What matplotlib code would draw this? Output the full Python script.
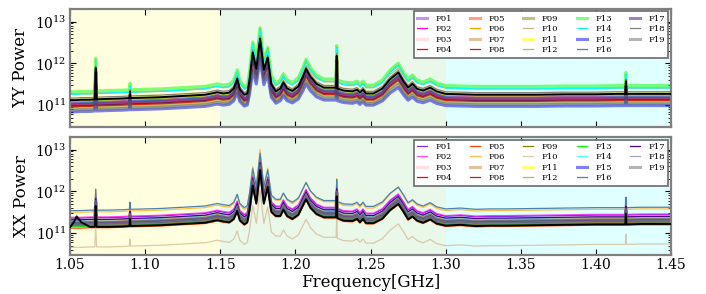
import numpy as np
import matplotlib
matplotlib.use('Agg')
import matplotlib.pyplot as plt
from matplotlib.ticker import FixedLocator, LogLocator, NullFormatter

plt.rcParams['font.family'] = ['DejaVu Serif']
plt.rcParams['mathtext.fontset'] = 'dejavuserif'

# frequency grid [GHz], denser around the lines
freq = [1.050, 1.0525, 1.0544, 1.0575, 1.0633, 1.0665, 1.0671, 1.0677, 1.075, 1.085,
        1.0895, 1.0899, 1.0903, 1.100, 1.110, 1.120, 1.130, 1.140, 1.148, 1.152,
        1.156, 1.159, 1.1613, 1.163, 1.166, 1.168, 1.1695, 1.1716, 1.1740, 1.1765,
        1.1790, 1.1816, 1.1840, 1.1870, 1.1900, 1.1920, 1.1945, 1.1980, 1.2020, 1.2050,
        1.2071, 1.2100, 1.2140, 1.2190, 1.2240, 1.2271, 1.2275, 1.2279, 1.2320, 1.2380,
        1.2410, 1.2430, 1.2450, 1.2470, 1.2520, 1.2580, 1.2630, 1.2685, 1.2720, 1.2750,
        1.2779, 1.2810, 1.2850, 1.2897, 1.2940, 1.3000, 1.3100, 1.3200, 1.3300, 1.3400,
        1.3600, 1.3800, 1.4000, 1.4150, 1.4196, 1.4200, 1.4204, 1.4300, 1.4500]

# YY: median continuum and line excess (log10 power)
yy_cont = [11.12, 11.12, 11.12, 11.13, 11.13, 11.14, 11.14, 11.14, 11.15, 11.16,
           11.17, 11.17, 11.17, 11.18, 11.19, 11.21, 11.23, 11.25, 11.28, 11.28,
           11.30, 11.30, 11.30, 11.30, 11.30, 11.30, 11.30, 11.30, 11.30, 11.30,
           11.30, 11.30, 11.30, 11.30, 11.30, 11.30, 11.30, 11.30, 11.30, 11.30,
           11.30, 11.30, 11.30, 11.30, 11.30, 11.30, 11.30, 11.30, 11.30, 11.29,
           11.28, 11.28, 11.28, 11.28, 11.28, 11.28, 11.27, 11.27, 11.27, 11.27,
           11.27, 11.27, 11.27, 11.27, 11.27, 11.27, 11.26, 11.25, 11.25, 11.25,
           11.25, 11.26, 11.26, 11.27, 11.27, 11.27, 11.27, 11.27, 11.27]
yy_line = [0, 0, 0, 0, 0, 0, 0.75, 0, 0, 0,
           0, 0.15, 0, 0, 0, 0, 0, 0, 0.03, 0,
           0, 0.10, 0.33, 0.08, -0.05, -0.02, 0.30, 0.96, 0.57, 1.29,
           0.55, 0.84, 0.20, 0.03, 0.10, 0.24, 0.10, 0.04, 0.15, 0.38,
           0.57, 0.38, 0.21, 0.12, 0.12, 0.12, 0.88, 0.10, 0.05, 0.04,
           0.09, 0.02, 0.09, 0, 0, 0.12, 0.35, 0.51, 0.30, 0.15,
           0.24, 0.12, 0.08, 0.15, 0.06, 0, 0, 0, 0, 0,
           0, 0, 0, 0, 0, 0.30, 0, 0, 0]

# XX: median continuum and line excess (log10 power)
xx_cont = [11.28, 11.28, 11.28, 11.28, 11.29, 11.29, 11.29, 11.29, 11.29, 11.30,
           11.31, 11.31, 11.31, 11.32, 11.33, 11.35, 11.37, 11.39, 11.42, 11.42,
           11.40, 11.40, 11.40, 11.40, 11.40, 11.40, 11.40, 11.40, 11.40, 11.40,
           11.40, 11.40, 11.40, 11.40, 11.40, 11.40, 11.40, 11.40, 11.40, 11.40,
           11.40, 11.40, 11.40, 11.40, 11.40, 11.40, 11.40, 11.40, 11.40, 11.39,
           11.38, 11.38, 11.38, 11.38, 11.38, 11.37, 11.36, 11.36, 11.35, 11.35,
           11.34, 11.34, 11.33, 11.33, 11.32, 11.32, 11.31, 11.31, 11.32, 11.32,
           11.33, 11.34, 11.35, 11.35, 11.35, 11.35, 11.35, 11.36, 11.36]
xx_line = [0, 0, 0, 0, 0, 0, 0.50, 0, 0, 0,
           0, 0.17, 0, 0, 0, 0, 0, 0, 0.03, 0,
           0, 0.08, 0.27, 0.05, -0.05, 0, 0.30, 0.88, 0.45, 1.25,
           0.45, 0.85, 0.25, 0.15, 0.15, 0.30, 0.15, 0.08, 0.18, 0.40,
           0.55, 0.35, 0.20, 0.12, 0.12, 0.12, 0.62, 0.10, 0.04, 0.04,
           0.10, 0.02, 0.10, 0, 0, 0.12, 0.33, 0.48, 0.30, 0.12,
           0.20, 0.10, 0.06, 0.14, 0.05, 0, 0.03, 0, 0, 0,
           0, 0, 0, 0, 0, 0.25, 0, 0, 0]
# bump seen only in the black XX curve near 1.054 GHz
xx_black_extra = [0, 0.12, 0.26, 0.12] + [0] * 75

names = ['F%02d' % (i + 1) for i in range(19)]
colors = ['blueviolet', 'magenta', 'pink', 'red', 'orangered', 'orange', 'peru',
          'brown', 'olive', 'tan', 'yellow', 'yellowgreen', 'lime', 'cyan', 'blue',
          'steelblue', 'indigo', 'gray', 'dimgray']

# per-feed offset from the median (dex) and line strength factor
yy_off = [-0.08, -0.05, -0.10, -0.16, -0.12, 0.14, -0.02, -0.14, -0.20, 0.15,
          0.03, -0.03, 0.20, 0.14, -0.28, -0.07, -0.11, 0.05, -0.24]
yy_scale = [1.0, 1.0, 1.0, 0.95, 1.0, 1.08, 1.0, 0.95, 0.95, 0.9,
            1.0, 1.0, 1.05, 1.05, 0.85, 1.0, 1.0, 1.0, 0.9]
xx_off = [0.08, 0.10, 0.02, -0.10, -0.16, 0.22, 0.0, -0.04, -0.02, -0.62,
          -0.06, -0.08, -0.12, 0.03, -0.05, 0.26, 0.04, -0.01, -0.09]
xx_scale = [1.0, 1.0, 1.0, 1.0, 1.0, 1.1, 1.0, 1.0, 1.0, 1.0,
            1.0, 1.0, 1.0, 1.0, 1.0, 1.0, 1.0, 1.0, 1.0]
yy_black_off = 0.0
xx_black_off = -0.14

# line styles: YY odd feeds thick/faded, XX every 4th thick or faded
yy_lw = [2.2 if i % 2 == 0 else 0.9 for i in range(19)]
yy_alpha = [0.5 if i % 2 == 0 else 1.0 for i in range(19)]
xx_lw = [2.2 if i % 4 == 2 else 0.9 for i in range(19)]
xx_alpha = [0.5 if i % 4 == 2 else (0.7 if i % 4 == 1 else 1.0) for i in range(19)]

bands = [(1.05, 1.15, '#ffffe0'), (1.15, 1.30, '#eaf8ea'), (1.30, 1.45, '#e0ffff')]


def draw_panel(ax, cont, line, off, scale, lw, alpha, black_off, black_extra, ylab):
    f = np.array(freq)
    c = np.array(cont)
    l = np.array(line)
    for lo, hi, col in bands:
        ax.axvspan(lo, hi, color=col, lw=0, zorder=0)
    for i, name in enumerate(names):
        ax.plot(f, 10 ** (c + off[i] + scale[i] * l), color=colors[i],
                lw=lw[i], alpha=alpha[i], label=name, zorder=2)
    ax.plot(f, 10 ** (c + black_off + l + np.array(black_extra)), color='k',
            lw=1.4, zorder=3)
    ax.set_yscale('log')
    ax.set_xlim(1.05, 1.45)
    ax.set_ylim(3e10, 2e13)
    ax.xaxis.set_major_locator(FixedLocator(np.arange(1.05, 1.4501, 0.05)))
    ax.yaxis.set_major_locator(LogLocator(base=10, numticks=10))
    ax.yaxis.set_minor_locator(LogLocator(base=10, subs=np.arange(2, 10), numticks=10))
    ax.yaxis.set_minor_formatter(NullFormatter())
    ax.tick_params(which='both', direction='in', top=True, right=True,
                   labelsize=10, color='k', pad=2.5)
    ax.tick_params(which='major', length=4)
    ax.tick_params(which='minor', length=2)
    for s in ax.spines.values():
        s.set_color('gray')
        s.set_linewidth(1.6)
    ax.set_ylabel(ylab, fontsize=12)
    leg = ax.legend(loc='upper right', ncol=5, fontsize=6, fancybox=False,
                    framealpha=1, edgecolor='dimgray', handlelength=1.2,
                    handletextpad=1.0, columnspacing=2.2, labelspacing=0.3,
                    borderaxespad=0.3)
    leg.get_frame().set_linewidth(1.2)


fig = plt.figure(figsize=(7.06, 2.94), dpi=100)
ax1 = fig.add_axes([0.0992, 0.568, 0.8512, 0.4014])
ax2 = fig.add_axes([0.0992, 0.1327, 0.8512, 0.4013])

draw_panel(ax1, yy_cont, yy_line, yy_off, yy_scale, yy_lw, yy_alpha,
           yy_black_off, [0] * len(freq), 'YY Power')
draw_panel(ax2, xx_cont, xx_line, xx_off, xx_scale, xx_lw, xx_alpha,
           xx_black_off, xx_black_extra, 'XX Power')

ax1.tick_params(labelbottom=False)
ax2.set_xticklabels(['%.2f' % v for v in np.arange(1.05, 1.4501, 0.05)])
ax2.set_xlabel('Frequency[GHz]', fontsize=12, labelpad=1)

fig.savefig('out.png', dpi=100)
